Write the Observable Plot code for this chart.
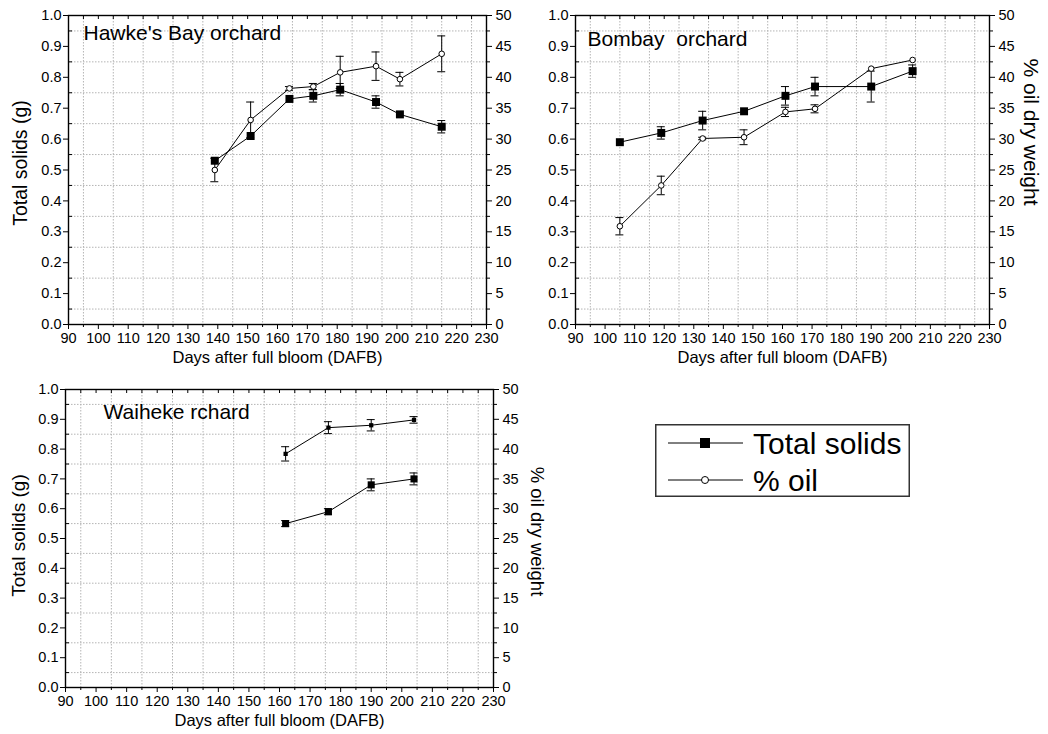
<!DOCTYPE html>
<html>
<head>
<meta charset="utf-8">
<script src="https://cdn.jsdelivr.net/npm/d3@7"></script>
<script src="https://cdn.jsdelivr.net/npm/@observablehq/plot@0.6"></script>
<style>
  body { margin: 0; background: #fff; }
  #wrap { position: relative; width: 1048px; height: 734px; overflow: hidden; background: #fff;
          font-family: "Liberation Sans", Arial, Helvetica, sans-serif; }
  #wrap svg { position: absolute; }
</style>
</head>
<body>
<div id="wrap"></div>
<script>
// ---------- axis ticks ----------
const xTicks = [90, 100, 110, 120, 130, 140, 150, 160, 170, 180, 190, 200, 210, 220, 230];
const solidsTicks = [0, 0.1, 0.2, 0.3, 0.4, 0.5, 0.6, 0.7, 0.8, 0.9, 1.0];
const oilTicks = [0, 5, 10, 15, 20, 25, 30, 35, 40, 45, 50];
const OIL_MAX = 50; // right axis 0–50 % shares the frame with left axis 0–1 g

// ---------- Hawke's Bay orchard ----------
const hbDays      = [139, 151, 164, 172, 181, 193, 201, 215];
const hbSolids    = [0.53, 0.61, 0.73, 0.74, 0.76, 0.72, 0.68, 0.64];
const hbSolidsErr = [0, 0, 0, 0.02, 0.02, 0.02, 0, 0.02];
const hbOil       = [25.0, 33.1, 38.2, 38.5, 40.8, 41.8, 39.7, 43.8];
const hbOilErr    = [1.9, 2.9, 0.3, 0.5, 2.6, 2.3, 1.1, 2.9];

// ---------- Bombay orchard ----------
const bbDays      = [105, 119, 133, 147, 161, 171, 190, 204];
const bbSolids    = [0.59, 0.62, 0.66, 0.69, 0.74, 0.77, 0.77, 0.82];
const bbSolidsErr = [0, 0.02, 0.03, 0, 0.03, 0.03, 0.05, 0.02];
const bbOil       = [15.9, 22.5, 30.1, 30.3, 34.4, 34.9, 41.4, 42.8];
const bbOilErr    = [1.4, 1.5, 0.2, 1.2, 0.75, 0.65, 0, 0];

// ---------- Waiheke orchard ----------
const wkDays      = [162, 176, 190, 204];
const wkSolids    = [0.55, 0.59, 0.68, 0.70];
const wkSolidsErr = [0.01, 0.01, 0.02, 0.02];
const wkOil       = [39.2, 43.6, 44.0, 44.9];
const wkOilErr    = [1.2, 1.0, 0.95, 0.55];

// ---------- text ----------
const xTitle = "Days after full bloom (DAFB)";
const leftTitle = "Total solids (g)";
const rightTitle = "% oil dry weight";
const legendLabels = ["Total solids", "% oil"];

const FONT = '"Liberation Sans", Arial, Helvetica, sans-serif';
const xMinor = xTicks.slice(0, -1).map(d => d + 5);
const xAll = xTicks.concat(xMinor);
const solidsMinor = solidsTicks.slice(0, -1).map(d => +(d + 0.05).toFixed(2));
const oilMinor = oilTicks.slice(0, -1).map(d => d + 2.5);

function rows(days, v, e) { return days.map((d, i) => ({day: d, v: v[i], e: e[i]})); }

function errorBars(data, scaleDiv) {
  const f = data.filter(d => d.e > 0);
  const lo = d => (d.v - d.e) / scaleDiv, hi = d => (d.v + d.e) / scaleDiv;
  return [
    Plot.ruleX(f, {x: "day", y1: lo, y2: hi, stroke: "black", strokeWidth: 1}),
    Plot.ruleY(f, {y: hi, x1: "day", x2: "day", insetLeft: -4, insetRight: -4, stroke: "black", strokeWidth: 1}),
    Plot.ruleY(f, {y: lo, x1: "day", x2: "day", insetLeft: -4, insetRight: -4, stroke: "black", strokeWidth: 1})
  ];
}

function drawPanel(cfg) {
  const m = cfg.margin;
  const pw = cfg.width - m.left - m.right;
  const ph = cfg.height - m.top - m.bottom;
  const S = rows(cfg.days, cfg.solids, cfg.solidsErr);
  const O = rows(cfg.days, cfg.oil, cfg.oilErr);
  const oy = d => d.v / OIL_MAX;
  const gridStyle = {stroke: "#b4b4b4", strokeOpacity: 1, strokeWidth: 1, strokeDasharray: "1.5,1.5"};

  const marks = [
    Plot.gridX(xMinor, gridStyle),
    Plot.gridY(solidsMinor, gridStyle),
    // bottom axis
    Plot.axisX({anchor: "bottom", ticks: xTicks, tickSize: 5, tickPadding: 3.5, label: null, tickFormat: d => String(d)}),
    Plot.axisX({anchor: "bottom", ticks: xMinor, tickSize: 3, label: null, tickFormat: () => ""}),
    // top inward ticks
    Plot.tickX(xAll, {x: d => d, insetBottom: ph - 4, stroke: "black"}),
    // left axis
    Plot.axisY({anchor: "left", ticks: solidsTicks, tickSize: 5, tickPadding: 2, label: null, tickFormat: d3.format(".1f")}),
    Plot.tickY(solidsMinor, {y: d => d, insetRight: pw - 4, stroke: "black"}),
    // right axis (% oil)
    Plot.axisY({anchor: "right", ticks: oilTicks.map(v => v / OIL_MAX), tickSize: 5, tickPadding: 4, label: null,
                tickFormat: d => String(Math.round(d * OIL_MAX))}),
    Plot.axisY({anchor: "right", ticks: oilMinor.map(v => v / OIL_MAX), tickSize: 3, label: null, tickFormat: () => ""}),
    Plot.frame({stroke: "black", strokeWidth: 1.4}),
    // total solids
    Plot.line(S, {x: "day", y: "v", stroke: "black", strokeWidth: 1}),
    ...errorBars(S, 1),
    Plot.dot(S, {x: "day", y: "v", symbol: "square", r: cfg.squareR, fill: "black", stroke: "none"}),
    // % oil
    Plot.line(O, {x: "day", y: oy, stroke: "black", strokeWidth: 1}),
    ...errorBars(O, OIL_MAX),
    cfg.oilFilledSquare
      ? Plot.dot(O, {x: "day", y: oy, symbol: "square", r: 2.4, fill: "black", stroke: "none"})
      : Plot.dot(O, {x: "day", y: oy, symbol: "circle", r: 2.8, fill: "white", stroke: "black", strokeWidth: 1}),
    // titles
    Plot.text([cfg.title], {text: d => d, frameAnchor: "top-left", dx: cfg.titleDx, dy: cfg.titleDy,
               textAnchor: "start", lineAnchor: "middle", fontSize: 21, fill: "black"}),
    Plot.text([xTitle], {text: d => d, frameAnchor: "bottom", dy: 33, lineAnchor: "middle",
               fontSize: 16.5, fill: "black"})
  ];
  if (cfg.leftTitle) marks.push(Plot.text([leftTitle], {text: d => d, frameAnchor: "left", dx: cfg.leftDx, dy: cfg.leftDy,
               rotate: -90, textAnchor: "middle", lineAnchor: "middle", fontSize: cfg.leftSize, fill: "black"}));
  if (cfg.rightTitle) marks.push(Plot.text([rightTitle], {text: d => d, frameAnchor: "right", dx: cfg.rightDx, dy: cfg.rightDy,
               rotate: 90, textAnchor: "middle", lineAnchor: "middle", fontSize: cfg.rightSize, fill: "black"}));

  const svg = Plot.plot({
    width: cfg.width, height: cfg.height,
    marginLeft: m.left, marginRight: m.right, marginTop: m.top, marginBottom: m.bottom,
    x: {domain: [90, 230]},
    y: {domain: [0, 1]},
    style: {fontFamily: FONT, fontSize: "14.5px", color: "black", background: "transparent", overflow: "visible"},
    marks
  });
  svg.style.left = cfg.left + "px";
  svg.style.top = cfg.top + "px";
  document.getElementById("wrap").appendChild(svg);
}

drawPanel({
  left: 0, top: 0, width: 524, height: 370,
  margin: {left: 68, right: 38, top: 15, bottom: 46},
  days: hbDays, solids: hbSolids, solidsErr: hbSolidsErr, oil: hbOil, oilErr: hbOilErr, squareR: 4.5,
  title: "Hawke's Bay orchard", titleDx: 15, titleDy: 18,
  leftTitle: true, leftDx: -48, leftDy: -7, leftSize: 19.5
});

drawPanel({
  left: 524, top: 0, width: 524, height: 370,
  margin: {left: 51, right: 59, top: 15, bottom: 46},
  days: bbDays, solids: bbSolids, solidsErr: bbSolidsErr, oil: bbOil, oilErr: bbOilErr, squareR: 4.5,
  title: "Bombay  orchard", titleDx: 12, titleDy: 24,
  rightTitle: true, rightDx: 41, rightDy: -38, rightSize: 21
});

drawPanel({
  left: 0, top: 370, width: 560, height: 364,
  margin: {left: 65, right: 67, top: 19, bottom: 47},
  days: wkDays, solids: wkSolids, solidsErr: wkSolidsErr, oil: wkOil, oilErr: wkOilErr, squareR: 4,
  oilFilledSquare: true,
  title: "Waiheke rchard", titleDx: 38, titleDy: 23,
  leftTitle: true, leftDx: -47, leftDy: -3, leftSize: 19,
  rightTitle: true, rightDx: 43, rightDy: -7, rightSize: 18.5
});

// ---------- legend ----------
(function legend() {
  const L = {x: 655, y: 424, w: 255, h: 73};
  const svg = d3.select("#wrap").append("svg")
    .attr("width", L.w).attr("height", L.h)
    .style("left", L.x + "px").style("top", L.y + "px");
  svg.append("rect").attr("x", 0.75).attr("y", 0.75).attr("width", L.w - 1.5).attr("height", L.h - 1.5)
    .attr("fill", "white").attr("stroke", "#333").attr("stroke-width", 1.5);
  const rowsY = [19, 56];
  legendLabels.forEach((lab, i) => {
    const g = svg.append("g").attr("transform", `translate(0,${rowsY[i]})`);
    g.append("line").attr("x1", 13).attr("x2", 88).attr("y1", 0).attr("y2", 0).attr("stroke", "black").attr("stroke-width", 1);
    if (i === 0) g.append("rect").attr("x", 45).attr("y", -5).attr("width", 10).attr("height", 10).attr("fill", "black");
    else g.append("circle").attr("cx", 50).attr("cy", 0).attr("r", 3.5).attr("fill", "white").attr("stroke", "black");
    g.append("text").attr("x", 98).attr("y", 0).attr("dy", "0.35em")
      .attr("font-family", FONT).attr("font-size", 30).attr("fill", "black").text(lab);
  });
})();
</script>
</body>
</html>
